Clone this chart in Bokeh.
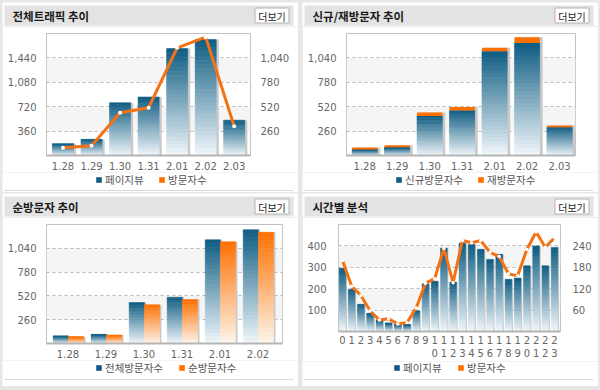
from bokeh.plotting import figure
from bokeh.models import (Range1d, LinearAxis, FixedTicker, NumeralTickFormatter,
                          Legend, LegendItem)
from bokeh.layouts import column, row
from bokeh.embed import file_html
from bokeh.resources import INLINE
from bokeh.core.properties import value

# ---------------- data ----------------
dates_a = ["1.28", "1.29", "1.30", "1.31", "2.01", "2.02", "2.03"]
pageviews = [174, 238, 779, 864, 1579, 1713, 521]
visitors = [83, 104, 455, 509, 1147, 1261, 312]

new_visitors = [65, 88, 422, 480, 1110, 1200, 300]
return_visitors = [20, 20, 35, 36, 37, 60, 20]

dates_b = ["1.28", "1.29", "1.30", "1.31", "2.01", "2.02"]
total_visitors = [83, 100, 448, 506, 1133, 1244]
unique_visitors = [74, 92, 424, 480, 1112, 1215]

hour_labels = ["0", "1", "2", "3", "4", "5", "6", "7", "8", "9",
               "1\n0", "1\n1", "1\n2", "1\n3", "1\n4", "1\n5", "1\n6", "1\n7",
               "1\n8", "1\n9", "2\n0", "2\n1", "2\n2", "2\n3"]
hour_pageviews = [295, 198, 127, 85, 54, 40, 34, 33, 97, 223, 235, 390,
                  231, 412, 406, 384, 337, 361, 244, 250, 307, 400, 307, 393]
hour_visitors = [199, 127, 101, 58, 32, 36, 21, 25, 66, 135, 148, 233,
                 137, 255, 249, 255, 222, 210, 162, 156, 230, 279, 236, 263]

titles = ["전체트래픽 추이", "신규/재방문자 추이", "순방문자 추이", "시간별 분석"]
legend_names = [["페이지뷰", "방문자수"], ["신규방문자수", "재방문자수"],
                ["전체방문자수", "순방문자수"], ["페이지뷰", "방문자수"]]
more_text = "더보기"

# ---------------- style ----------------
BLUE_TOP = (14, 92, 130)
BLUE_BOT = (242, 248, 252)
OR_TOP = (255, 112, 0)
OR_BOT = (255, 247, 238)
LINE_OR = "#f47114"
BLUE = "#105d84"
ORANGE = "#ff7000"
TICK_FONT = "DejaVu Sans"
TICK_SIZE = "10px"
KR_FONT = "Noto Sans CJK KR"
PW = 296  # panel width
NAN = float("nan")


def no_align(f):
    if "frame_align" in f.properties():
        f.frame_align = False
    return f


def hexc(rgb):
    return "#%02x%02x%02x" % tuple(int(round(v)) for v in rgb)


def grad_bars(p, xs, tops, width, top_rgb, bot_rgb, bottoms=None, n=28, shadow=0.08):
    X, B, T, C = [], [], [], []
    for i, (x, t) in enumerate(zip(xs, tops)):
        b0 = 0 if bottoms is None else bottoms[i]
        h = t - b0
        for k in range(n):
            f = (k + 0.5) / n
            X.append(x)
            B.append(b0 + h * k / n)
            T.append(b0 + h * (k + 1) / n)
            C.append(hexc([bb + (tt - bb) * f for tt, bb in zip(top_rgb, bot_rgb)]))
    if shadow:
        p.vbar(x=[x + shadow for x in xs], top=list(tops), width=width,
               fill_color="#c9c9c9", line_color=None)
    p.vbar(x=X, bottom=B, top=T, width=width, fill_color=C, line_color=C, line_width=0.5)


def blank_fig(h):
    f = figure(width=PW, height=h, output_backend="svg", toolbar_location=None,
               x_range=Range1d(0, PW), y_range=Range1d(h, 0),
               x_axis_type=None, y_axis_type=None,
               min_border_left=0, min_border_right=0, min_border_top=0, min_border_bottom=0)
    f.outline_line_color = None
    f.border_fill_color = "white"
    f.background_fill_color = "white"
    return no_align(f)


def header_fig(title):
    f = blank_fig(24)
    f.quad(left=[2], right=[291], top=[3], bottom=[23], fill_color="#e3e3e3", line_color=None)
    f.text(x=[10], y=[13.5], text=[title], text_font=value(KR_FONT), text_font_size="11.5px",
           text_font_style="bold", text_color="#1a1a1a", text_baseline="middle")
    f.rect(x=[269.5], y=[13], width=34, height=15, fill_color="white", line_color="#b3b3b3")
    f.text(x=[269.5], y=[13.5], text=[more_text], text_font=value(KR_FONT), text_font_size="10px",
           text_color="#222222", text_align="center", text_baseline="middle")
    return f


def footer_fig(h, names, xs, yc, sep_y):
    f = blank_fig(h)
    f.segment(x0=[2], x1=[291], y0=[sep_y], y1=[sep_y], line_color="#dadada", line_width=1)
    # legend keys only (NaN position: never drawn in the footer itself)
    rs = [f.vbar(x=[NAN], top=[NAN], width=1, fill_color=c, line_color=None)
          for c in (BLUE, ORANGE)]
    for r, nm, lx in zip(rs, names, xs):
        leg = Legend(items=[LegendItem(label=nm, renderers=[r], index=0)],
                     location=(lx, h - yc - 5),
                     padding=0, margin=0, spacing=0, glyph_width=7, glyph_height=7,
                     label_standoff=3, label_height=10, label_width=10,
                     label_text_font=KR_FONT, label_text_font_size="10.5px",
                     label_text_color="#555555", background_fill_alpha=0,
                     border_line_color=None)
        f.add_layout(leg)
    return f


def chart_fig(h, fl, fr, ft, fb, xr, yr, yticks):
    p = figure(width=PW, height=h, output_backend="svg", toolbar_location=None,
               x_range=Range1d(*xr), y_range=Range1d(*yr),
               min_border_left=fl, min_border_right=fr, min_border_top=ft, min_border_bottom=fb)
    no_align(p)
    p.border_fill_color = "white"
    p.background_fill_color = "white"
    p.outline_line_color = "#c2c2c2"
    p.xgrid.grid_line_color = None
    p.ygrid.grid_line_color = "#b9b9b9"
    p.ygrid.grid_line_dash = "3 3"
    p.ygrid.band_fill_color = "#f5f5f5"
    p.ygrid.band_fill_alpha = 1
    p.yaxis.ticker = FixedTicker(ticks=yticks)
    p.yaxis.formatter = NumeralTickFormatter(format="0,0")
    for ax in p.xaxis + p.yaxis:
        ax.axis_line_color = None
        ax.major_tick_line_color = None
        ax.minor_tick_line_color = None
        ax.major_label_text_font = TICK_FONT
        ax.major_label_text_font_size = TICK_SIZE
        ax.major_label_text_color = "#666666"
    p.xaxis.axis_line_color = "#b5b5b5"
    p.xaxis.axis_line_width = 2
    p.yaxis.major_label_standoff = 4
    p.xaxis.major_label_standoff = 0
    return p


def right_axis(p, yr, ticks, standoff=4):
    p.extra_y_ranges = {"r": Range1d(*yr)}
    ax = LinearAxis(y_range_name="r", ticker=FixedTicker(ticks=ticks),
                    formatter=NumeralTickFormatter(format="0,0"))
    ax.axis_line_color = None
    ax.major_tick_line_color = None
    ax.minor_tick_line_color = None
    ax.major_label_text_font = TICK_FONT
    ax.major_label_text_font_size = TICK_SIZE
    ax.major_label_text_color = "#666666"
    ax.major_label_standoff = standoff
    p.add_layout(ax, "right")


# ---------------- panel 1 ----------------
xa = list(range(len(dates_a)))
p1 = chart_fig(146, 44, 48, 7, 17, (-0.578, 6.571), (0, 1800), [360, 720, 1080, 1440])
right_axis(p1, (0, 1300), [260, 520, 780, 1040])
p1.xaxis.ticker = FixedTicker(ticks=xa)
p1.xaxis.major_label_overrides = {i: d for i, d in enumerate(dates_a)}
grad_bars(p1, xa, pageviews, 0.74, BLUE_TOP, BLUE_BOT, shadow=0.09)
p1.line(xa, visitors, y_range_name="r", line_color=LINE_OR, line_width=3)
p1.scatter(xa, visitors, y_range_name="r", size=4, fill_color="white", line_color=None)
panel1 = column(header_fig(titles[0]), p1,
                footer_fig(20, legend_names[0], [93, 156], 9.5, 18))

# ---------------- panel 2 ----------------
p2 = chart_fig(146, 44, 23, 7, 17, (-0.56, 6.49), (0, 1300), [260, 520, 780, 1040])
p2.xaxis.ticker = FixedTicker(ticks=xa)
p2.xaxis.major_label_overrides = {i: d for i, d in enumerate(dates_a)}
stack_top = [a + b for a, b in zip(new_visitors, return_visitors)]
p2.vbar(x=[x + 0.09 for x in xa], top=stack_top, width=0.78, fill_color="#c9c9c9", line_color=None)
grad_bars(p2, xa, new_visitors, 0.78, BLUE_TOP, BLUE_BOT, shadow=0)
p2.vbar(x=xa, bottom=new_visitors, top=stack_top, width=0.78, fill_color=ORANGE, line_color=None)
panel2 = column(header_fig(titles[1]), p2,
                footer_fig(20, legend_names[1], [93, 175], 9.5, 18))

# ---------------- panel 3 ----------------
xb = list(range(len(dates_b)))
p3 = chart_fig(143, 44, 16, 7, 16, (-0.566, 5.645), (0, 1300), [260, 520, 780, 1040])
p3.xaxis.ticker = FixedTicker(ticks=xb)
p3.xaxis.major_label_overrides = {i: d for i, d in enumerate(dates_b)}
grad_bars(p3, [x - 0.19 for x in xb], total_visitors, 0.4, BLUE_TOP, BLUE_BOT, shadow=0.05)
grad_bars(p3, [x + 0.21 for x in xb], unique_visitors, 0.4, OR_TOP, OR_BOT, shadow=0.05)
panel3 = column(header_fig(titles[2]), p3,
                footer_fig(26, legend_names[2], [93, 176], 10, 19))

# ---------------- panel 4 ----------------
xh = list(range(len(hour_labels)))
p4 = chart_fig(144, 36, 38, 7, 27, (-0.43, 23.65), (0, 500), [100, 200, 300, 400])
right_axis(p4, (0, 300), [60, 120, 180, 240], standoff=2)
p4.xaxis.ticker = FixedTicker(ticks=xh)
p4.xaxis.major_label_overrides = {i: d for i, d in enumerate(hour_labels)}
p4.xaxis.major_label_standoff = -3
p4.yaxis.major_label_standoff = 6
grad_bars(p4, xh, hour_pageviews, 0.72, BLUE_TOP, BLUE_BOT, shadow=0.14)
p4.line(xh, hour_visitors, y_range_name="r", line_color=LINE_OR, line_width=3)
p4.scatter(xh, hour_visitors, y_range_name="r", size=3.5, fill_color="white", line_color=None)
panel4 = column(header_fig(titles[3]), p4,
                footer_fig(25, legend_names[3], [91, 155], 9, 18))

for pn in (panel1, panel2):
    pn.margin = (2, 2, 0, 2)
for pn in (panel3, panel4):
    pn.margin = (1, 2, 4, 2)

layout = column(row(panel1, panel2), row(panel3, panel4),
                styles={"background-color": "#e7e7e7"})
open("out.html", "w").write(file_html(layout, INLINE))
